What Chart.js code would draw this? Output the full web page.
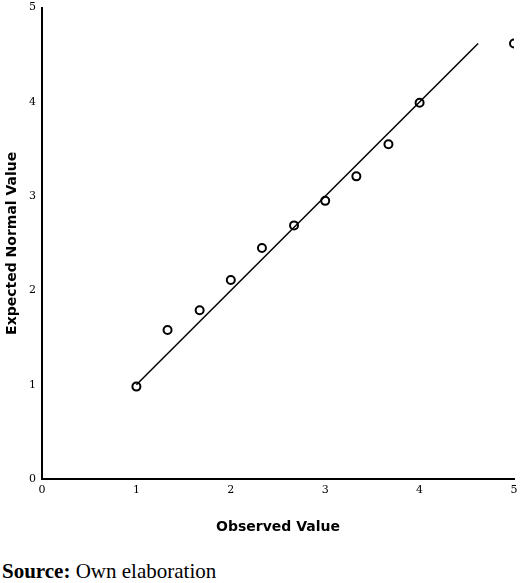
<!DOCTYPE html>
<html><head><meta charset="utf-8">
<script src="https://cdn.jsdelivr.net/npm/chart.js@4"></script>
<style>
body{margin:0;background:#fff;width:520px;height:583px;overflow:hidden}
#w{position:relative;width:520px;height:540px}
#s{position:absolute;left:2px;top:559px;font-family:"Liberation Serif",serif;font-size:21px;color:#000}
</style></head><body>
<div id="w"><canvas id="c"></canvas></div>
<div id="s"><b>Source:</b> Own elaboration</div>
<script>
const observed=[1,1.33,1.67,2,2.33,2.67,3,3.33,3.67,4,5];
const expected=[0.98,1.58,1.79,2.11,2.45,2.69,2.95,3.21,3.55,3.99,4.62];
const lineX=[1,4.62];
const lineY=[1,4.62];
const ticks=[0,1,2,3,4,5];
new Chart(document.getElementById('c'),{
type:'scatter',
data:{datasets:[
{data:observed.map((x,i)=>({x,y:expected[i]})),pointStyle:'circle',pointRadius:4,borderColor:'#000',backgroundColor:'rgba(0,0,0,0)',borderWidth:2,showLine:false},
{data:lineX.map((x,i)=>({x,y:lineY[i]})),showLine:true,pointRadius:0,borderColor:'#000',borderWidth:1.5}
]},
options:{animation:false,responsive:true,maintainAspectRatio:false,
layout:{padding:{top:6,right:5,left:0,bottom:0}},
plugins:{legend:{display:false},tooltip:{enabled:false}},
scales:{
x:{type:'linear',min:0,max:5,afterBuildTicks:a=>{a.ticks=ticks.map(v=>({value:v}))},
grid:{display:false,drawTicks:true,tickLength:5,color:'#000'},border:{color:'#000',width:2},
ticks:{color:'#000',font:{family:'DejaVu Serif',size:11},padding:0},
title:{display:true,text:'Observed Value',color:'#000',font:{family:'DejaVu Sans',size:14,weight:'bold'},padding:{top:8}},
afterFit:a=>{a.height=61}},
y:{type:'linear',min:0,max:5,afterBuildTicks:a=>{a.ticks=ticks.map(v=>({value:v}))},
grid:{display:false,drawTicks:true,tickLength:5,color:'#000'},border:{color:'#000',width:2},
ticks:{color:'#000',font:{family:'DejaVu Serif',size:11},padding:1},
title:{display:true,text:'Expected Normal Value',color:'#000',font:{family:'DejaVu Sans',size:14,weight:'bold'},padding:{bottom:2}},
afterFit:a=>{a.width=42}}
}}
});
</script></body></html>
